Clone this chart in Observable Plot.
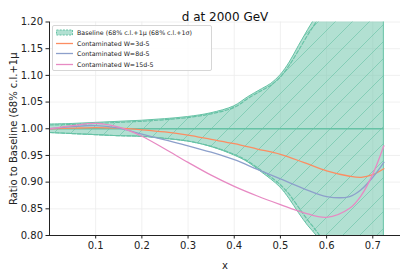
<!DOCTYPE html>
<html>
<head>
<meta charset="utf-8">
<script src="https://cdn.jsdelivr.net/npm/d3@7"></script>
<script src="https://cdn.jsdelivr.net/npm/@observablehq/plot@0.6"></script>
<style>
  html, body { margin: 0; padding: 0; background: #fff; }
  #wrap { position: relative; width: 407px; height: 272px; font-family: "DejaVu Sans", sans-serif; }
  #legend { position: absolute; left: 52px; top: 25px; width: 160px; height: 46px; box-sizing: border-box;
    border: 1px solid #d6d6d6; border-radius: 2px; background: rgba(255,255,255,0.85); font-size: 6.3px; color: #222; }
  .row { position: absolute; left: 3px; height: 8px; display: flex; align-items: center; }
  .row svg { margin-right: 4px; }
</style>
</head>
<body>
<div id="wrap"><div id="chart"></div><div id="legend"></div></div>
<script>
const title = "d at 2000 GeV";
const yLabel = "Ratio to Baseline (68% c.l.+1\u03bc";
const xLabel = "x";
const xTicks = [0.1, 0.2, 0.3, 0.4, 0.5, 0.6, 0.7];
const yTicks = [0.80, 0.85, 0.90, 0.95, 1.00, 1.05, 1.10, 1.15, 1.20];

// Baseline band (68% c.l.) and +1 sigma band
const bandX  = [0.001, 0.05, 0.1, 0.15, 0.2, 0.25, 0.3, 0.35, 0.4, 0.43, 0.46, 0.48, 0.5, 0.52, 0.54, 0.56, 0.58, 0.6, 0.65, 0.7, 0.724];
const bandHi = [1.008, 1.009, 1.011, 1.013, 1.015, 1.018, 1.022, 1.029, 1.042, 1.059, 1.074, 1.084, 1.100, 1.124, 1.155, 1.185, 1.215, 1.26, 1.45, 1.70, 1.85];
const bandLo = [0.992, 0.990, 0.988, 0.986, 0.985, 0.981, 0.976, 0.966, 0.950, 0.937, 0.918, 0.905, 0.890, 0.868, 0.842, 0.818, 0.798, 0.770, 0.680, 0.560, 0.500];
const sigHi  = [1.007, 1.008, 1.010, 1.012, 1.014, 1.017, 1.021, 1.028, 1.040, 1.057, 1.072, 1.082, 1.097, 1.120, 1.148, 1.177, 1.205, 1.25, 1.43, 1.68, 1.82];
const sigLo  = [0.993, 0.991, 0.989, 0.987, 0.986, 0.982, 0.977, 0.967, 0.952, 0.939, 0.921, 0.909, 0.895, 0.876, 0.852, 0.828, 0.806, 0.778, 0.690, 0.570, 0.510];

// Contaminated fits
const curveX = [0, 0.05, 0.1, 0.15, 0.2, 0.25, 0.3, 0.35, 0.4, 0.45, 0.5, 0.55, 0.6, 0.65, 0.675, 0.7, 0.724];
const w3  = [1.000, 1.001, 1.002, 1.001, 0.998, 0.994, 0.988, 0.980, 0.972, 0.962, 0.952, 0.937, 0.921, 0.911, 0.909, 0.914, 0.925];
const w8  = [1.000, 1.004, 1.006, 1.001, 0.990, 0.979, 0.968, 0.956, 0.942, 0.924, 0.906, 0.888, 0.873, 0.873, 0.886, 0.909, 0.937];
const w15 = [1.000, 1.006, 1.010, 1.003, 0.986, 0.962, 0.937, 0.913, 0.892, 0.874, 0.858, 0.843, 0.834, 0.851, 0.875, 0.915, 0.968];

const seriesNames = ["Contaminated W=3d-5", "Contaminated W=8d-5", "Contaminated W=15d-5"];
const seriesVals = [w3, w8, w15];
const colors = ["#fc8d62", "#8da0cb", "#e78ac3"];
const teal = "#66c2a5";

const band = bandX.map((x, i) => ({x, lo: bandLo[i], hi: bandHi[i], slo: sigLo[i], shi: sigHi[i]}));
const curves = seriesNames.flatMap((s, k) => curveX.map((x, i) => ({s, x, y: seriesVals[k][i]})));

const chart = Plot.plot({
  width: 407, height: 272,
  marginTop: 21.5, marginBottom: 37, marginLeft: 49, marginRight: 7,
  style: {fontFamily: "DejaVu Sans, sans-serif", fontSize: "10px", color: "#222", background: "#fff"},
  x: {domain: [0, 0.76]},
  y: {domain: [0.8, 1.2]},
  color: {domain: seriesNames, range: colors},
  marks: [
    Plot.gridX(xTicks, {stroke: "#ececec", strokeOpacity: 1, strokeWidth: 0.8}),
    Plot.gridY(yTicks, {stroke: "#ececec", strokeOpacity: 1, strokeWidth: 0.8}),
    Plot.areaY(band, {x: "x", y1: "lo", y2: "hi", fill: teal, fillOpacity: 0.5, curve: "catmull-rom", clip: true}),
    Plot.areaY(band, {x: "x", y1: "lo", y2: "hi", fill: "url(#hatch)", stroke: teal, strokeWidth: 1, curve: "catmull-rom", clip: true}),
    Plot.lineY(band, {x: "x", y: "shi", stroke: teal, strokeWidth: 1.2, strokeDasharray: "3.5,2", curve: "catmull-rom", clip: true}),
    Plot.lineY(band, {x: "x", y: "slo", stroke: teal, strokeWidth: 1.2, strokeDasharray: "3.5,2", curve: "catmull-rom", clip: true}),
    Plot.ruleY([1], {x1: bandX[0], x2: bandX[bandX.length - 1], stroke: teal, strokeWidth: 1.3}),
    Plot.lineY(curves, {x: "x", y: "y", stroke: "s", z: "s", strokeWidth: 1.3, curve: "catmull-rom", clip: true}),
    Plot.ruleX([0], {stroke: "#222", strokeWidth: 1}),
    Plot.ruleY([0.8], {stroke: "#222", strokeWidth: 1}),
    Plot.axisX({ticks: xTicks, tickFormat: ".1f", tickSize: 3.5, tickPadding: 3, fontSize: 10,
      label: xLabel, labelAnchor: "center", labelOffset: 33, labelArrow: "none"}),
    Plot.axisY({ticks: yTicks, tickFormat: ".2f", tickSize: 3.5, tickPadding: 3, fontSize: 10,
      label: yLabel, labelAnchor: "center", labelOffset: 40, labelArrow: "none"}),
    Plot.text([title], {frameAnchor: "top", dy: -10, fontSize: 12, fill: "#111"})
  ]
});

// hatch pattern
const ns = "http://www.w3.org/2000/svg";
const defs = document.createElementNS(ns, "defs");
defs.innerHTML = `<pattern id="hatch" patternUnits="userSpaceOnUse" width="17" height="17">
  <path d="M-2,2 L2,-2 M0,17 L17,0 M15,19 L19,15" stroke="${teal}" stroke-width="0.6" fill="none"/></pattern>`;
chart.insertBefore(defs, chart.firstChild);
document.getElementById("chart").appendChild(chart);

// legend
const legend = document.getElementById("legend");
const rows = [{name: "Baseline (68% c.l.+1\u03bc (68% c.l.+1\u03c3)", band: true}]
  .concat(seriesNames.map((n, i) => ({name: n, color: colors[i]})));
rows.forEach((r, i) => {
  const div = document.createElement("div");
  div.className = "row";
  div.style.top = (2.5 + i * 10.6) + "px";
  const sw = r.band
    ? `<svg width="17" height="7"><rect x="0.5" y="1" width="16" height="5" fill="${teal}" fill-opacity="0.5" stroke="${teal}" stroke-dasharray="2,1.2"/></svg>`
    : `<svg width="17" height="7"><line x1="0" x2="17" y1="3.5" y2="3.5" stroke="${r.color}" stroke-width="1.3"/></svg>`;
  div.innerHTML = sw + `<span>${r.name}</span>`;
  legend.appendChild(div);
});
</script>
</body>
</html>
